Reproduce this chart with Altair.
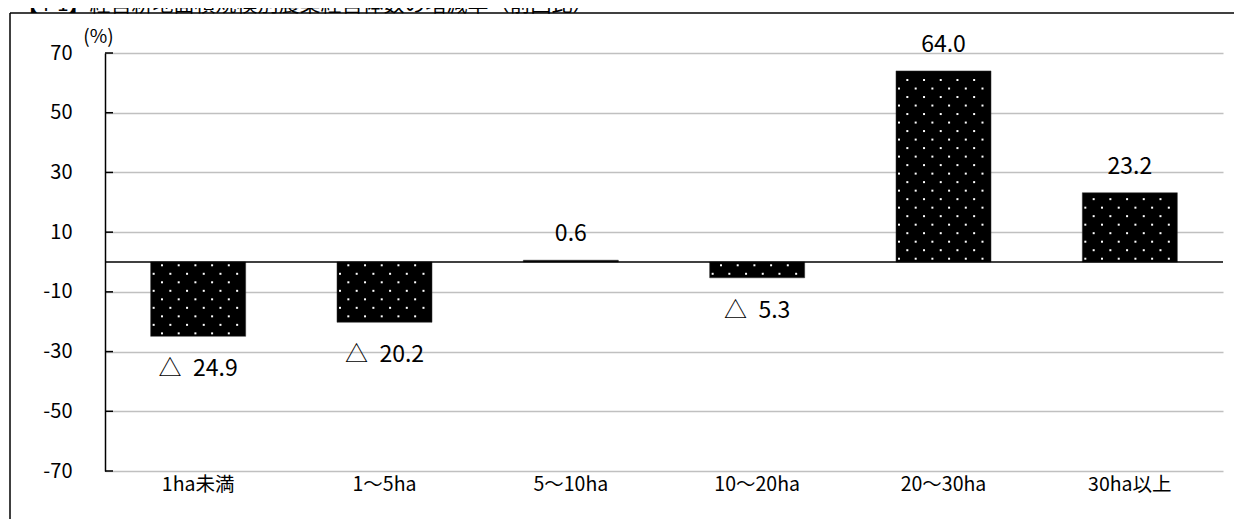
import altair as alt
import pandas as pd

categories = ["1ha未満", "1〜5ha", "5〜10ha", "10〜20ha", "20〜30ha", "30ha以上"]
values = [-24.9, -20.2, 0.6, -5.3, 64.0, 23.2]
y_ticks = [-70, -50, -30, -10, 10, 30, 50, 70]
title_text = "【4-1】経営耕地面積規模別農業経営体数の増減率（前回比）"
unit_label = "(%)"

W, H = 1118, 418
FONT = "Noto Sans CJK JP"

df = pd.DataFrame({"cat": categories, "value": values})
df["label"] = [f"{v:.1f}" if v >= 0 else f"△\u2002{abs(v):.1f}" for v in values]
df["pos"] = [v >= 0 for v in values]

# white dot texture inside each bar (derived from the bar values)
dot_rows = []
for c, v in zip(categories, values):
    sgn = 1 if v >= 0 else -1
    start = 0 if v >= 0 else 1
    r = 0
    while True:
        yy = 1.1 + 2.85 * r
        if yy > abs(v) - 0.8:
            break
        for k in range(11):
            if k % 2 == (start + r) % 2:
                dot_rows.append({"cat": c, "col": k, "value": sgn * yy})
        r += 1
dots = pd.DataFrame(dot_rows)

xscale = alt.Scale(domain=categories, paddingInner=0.49, paddingOuter=0.245)
yscale = alt.Scale(domain=[-70, 70], nice=False)

def X():
    return alt.X("cat:N", sort=categories, scale=xscale, title=None)

def Y(field="value:Q"):
    return alt.Y(field, scale=yscale, title=unit_label)

base = alt.Chart(df)

bars = base.mark_bar(color="#000000", stroke="#333333", strokeWidth=0.5).encode(
    x=alt.X("cat:N", sort=categories, scale=xscale, title=None,
            axis=alt.Axis(domain=False, ticks=False, labelAngle=0, labelFont=FONT,
                          labelFontSize=19.5, labelColor="#000000", labelPadding=4,
                          grid=False)),
    y=alt.Y("value:Q", scale=yscale, title=unit_label,
            axis=alt.Axis(values=y_ticks, domain=True, domainColor="#000000",
                          domainWidth=1.5, ticks=False, labelPadding=33,
                          labelExpr="datum.value < 0 ? '-' + abs(datum.value) : '' + datum.value",
                          labelFont=FONT, labelFontSize=20, labelColor="#000000",
                          grid=True, gridColor="#c0c0c0", gridWidth=1.5,
                          titleAngle=0, titleAlign="center", titleBaseline="alphabetic",
                          titleX=-7, titleY=-11, titleFont=FONT, titleFontSize=19,
                          titleFontWeight="normal", titleColor="#000000")),
)

dot_layer = alt.Chart(dots).transform_calculate(
    xo="datum.col * 8.35 + 3"
).mark_point(shape="square", filled=True, color="#ffffff", size=4, opacity=1).encode(
    x=X(),
    xOffset=alt.XOffset("xo:Q", scale=None),
    y=Y(),
)

lab_pos = base.transform_filter("datum.pos").mark_text(
    font=FONT, fontSize=23, color="#000000", baseline="alphabetic", dy=-19
).encode(x=X(), y=Y(), text="label:N")

lab_neg = base.transform_filter("!datum.pos").mark_text(
    font=FONT, fontSize=23, color="#000000", baseline="alphabetic", dy=40
).encode(x=X(), y=Y(), text="label:N")

one = alt.Chart(pd.DataFrame({"t": [title_text]}))

zero_line = one.transform_calculate(value="0").mark_rule(
    color="#000000", strokeWidth=1.5
).encode(y=Y(), x=alt.value(0), x2=alt.value(W))

tick_stubs = alt.Chart(pd.DataFrame({"value": y_ticks})).mark_rule(
    color="#000000", strokeWidth=1.5
).encode(y=Y(), x=alt.value(0), x2=alt.value(8))

frame_top = one.mark_rule(color="#000000", strokeWidth=1.5).encode(
    x=alt.value(-95), x2=alt.value(W + 40), y=alt.value(-40)
)
frame_left = one.mark_rule(color="#000000", strokeWidth=1.5).encode(
    x=alt.value(-95), y=alt.value(-40), y2=alt.value(H + 60)
)

title_mark = one.mark_text(font=FONT, fontSize=21, color="#000000",
                           align="left", baseline="alphabetic").encode(
    x=alt.value(-88), y=alt.value(-42), text="t:N"
)

chart = alt.layer(
    bars, dot_layer, zero_line, tick_stubs, lab_pos, lab_neg,
    frame_top, frame_left, title_mark
).properties(
    width=W, height=H,
    autosize=alt.AutoSizeParams(type="none"),
    padding={"left": 97, "top": 45, "right": 11, "bottom": 48},
    background="#ffffff",
).configure_view(stroke=None)

chart.save("out.html", embed_options={"renderer": "svg", "actions": False})
